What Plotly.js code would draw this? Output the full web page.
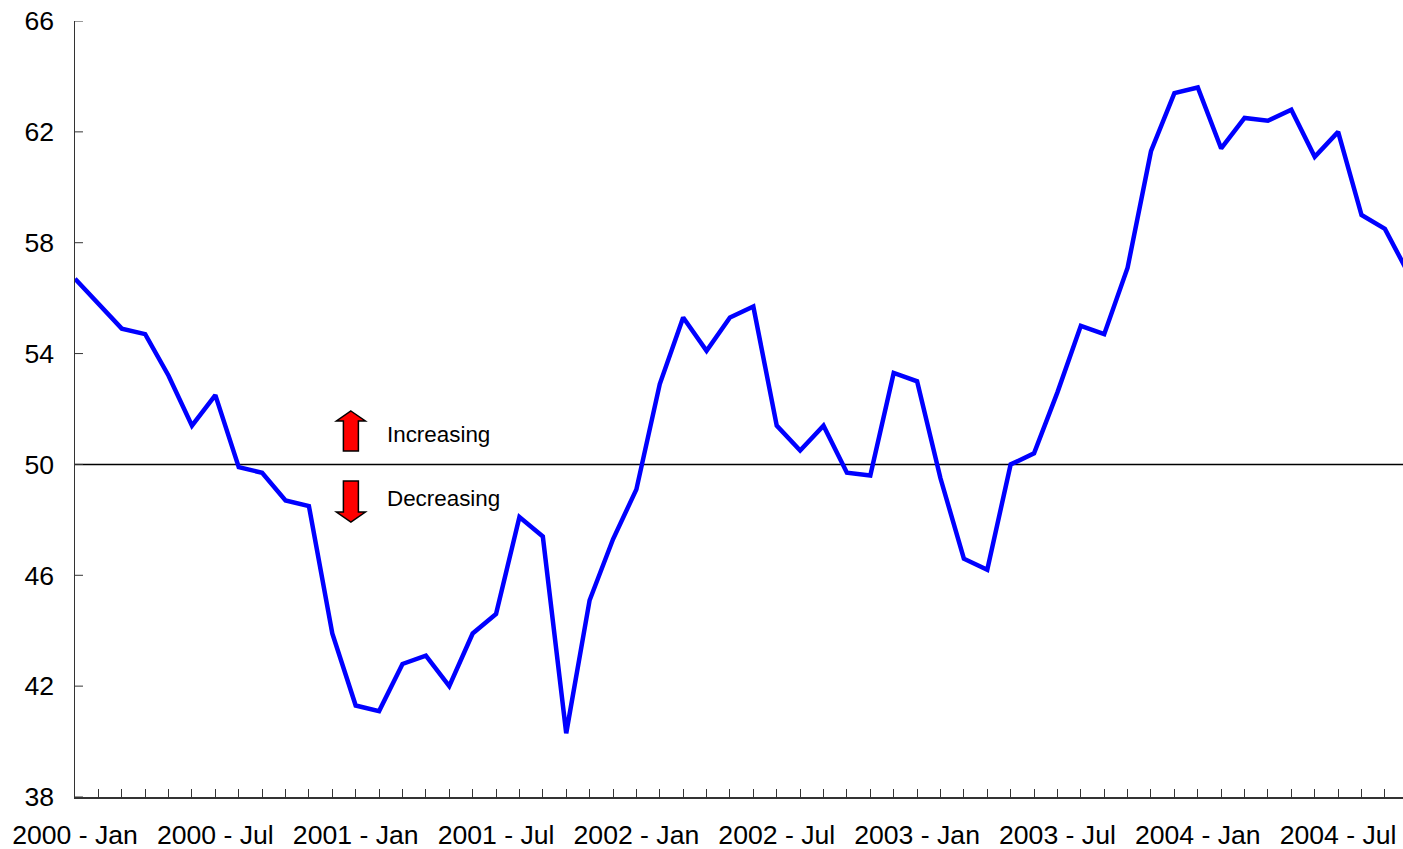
<!DOCTYPE html>
<html>
<head>
<meta charset="utf-8">
<script src="https://cdn.plot.ly/plotly-3.0.1.min.js"></script>
<style>html,body{margin:0;padding:0;background:#fff}#chart{width:1403px;height:849px}</style>
</head>
<body>
<div id="chart"></div>
<script>
const years = [2000, 2001, 2002, 2003, 2004];
const months = ["Jan","Feb","Mar","Apr","May","Jun","Jul","Aug","Sep","Oct","Nov","Dec"];
const values = [
  56.7,55.8,54.9,54.7,53.2,51.4,52.5,49.9,49.7,48.7,48.5,43.9,
  41.3,41.1,42.8,43.1,42.0,43.9,44.6,48.1,47.4,40.3,45.1,47.3,
  49.1,52.9,55.3,54.1,55.3,55.7,51.4,50.5,51.4,49.7,49.6,53.3,
  53.0,49.5,46.6,46.2,50.0,50.4,52.6,55.0,54.7,57.1,61.3,63.4,
  63.6,61.4,62.5,62.4,62.8,61.1,62.0,59.0,58.5,56.9
];
const categories = [];
years.forEach(y => months.forEach(m => categories.push(y + " - " + m)));
const xCats = categories.slice(0, values.length);
const tickTexts = xCats.map((c, i) => i % 6 === 0 ? c : "");
const yTicks = [38,42,46,50,54,58,62,66];
const referenceLevel = 50;
const upLabel = "Increasing";
const downLabel = "Decreasing";

const W = 1403, H = 849, L = 74.5, T = 21, R = 0, B = 52;
const px = x => (x - L) / (W - L - R);
const py = y => 1 - (y - T) / (H - T - B);
const poly = pts => "M" + pts.map(p => px(p[0]) + "," + py(p[1])).join("L") + "Z";
const arrowStyle = {type:"path", xref:"paper", yref:"paper", fillcolor:"#ff0000", line:{color:"#000000", width:1.5}, layer:"above"};
const axisColor = "#333333";
const yTickShapes = yTicks.map(v => ({
  type:"line", xref:"paper", x0:0, x1:8 / (W - L - R), yref:"y", y0:v, y1:v,
  line:{color:axisColor, width:1}, layer:"above"
}));

Plotly.newPlot("chart", [{
  type:"scatter", mode:"lines", x:xCats, y:values,
  line:{color:"#0000ff", width:4.5, shape:"linear"},
  hoverinfo:"x+y", showlegend:false
}], {
  width:W, height:H,
  margin:{l:L, r:R, t:T, b:B, pad:0},
  paper_bgcolor:"#ffffff", plot_bgcolor:"#ffffff",
  font:{family:"Liberation Sans, Arial, sans-serif", color:"#000000", size:26.6},
  showlegend:false,
  xaxis:{
    type:"category", categoryorder:"array", categoryarray:xCats,
    range:[0, (W - L - R) / 23.4],
    tickmode:"array", tickvals:xCats, ticktext:tickTexts,
    ticks:"inside", ticklen:8, tickwidth:1, tickcolor:axisColor,
    showline:true, linecolor:axisColor, linewidth:1.5,
    showgrid:false, zeroline:false, tickangle:0,
    tickfont:{size:26.6}, ticklabeloverflow:"allow", automargin:false,
    ticklabelstandoff:14
  },
  yaxis:{
    range:[38,66], tickmode:"array", tickvals:yTicks,
    ticks:"",
    showline:true, linecolor:axisColor, linewidth:1.5,
    showgrid:false, zeroline:false,
    tickfont:{size:26.6}, automargin:false,
    ticklabelstandoff:14
  },
  shapes:[
    {type:"line", xref:"paper", x0:0, x1:1, yref:"y", y0:referenceLevel, y1:referenceLevel, line:{color:"#000000", width:1.5}, layer:"below"},
    Object.assign({}, arrowStyle, {path:poly([[350.5,411],[365,421],[358,421],[358,451],[343,451],[343,421],[336,421]])}),
    Object.assign({}, arrowStyle, {path:poly([[343,481],[358,481],[358,512],[365,512],[350.5,522],[336,512],[343,512]])})
  ].concat(yTickShapes),
  annotations:[
    {text:upLabel, xref:"paper", yref:"paper", x:px(385), y:py(434), xanchor:"left", yanchor:"middle", showarrow:false, font:{size:22.4}},
    {text:downLabel, xref:"paper", yref:"paper", x:px(385), y:py(498), xanchor:"left", yanchor:"middle", showarrow:false, font:{size:22.4}}
  ]
}, {displayModeBar:false, staticPlot:true});
</script>
</body>
</html>
